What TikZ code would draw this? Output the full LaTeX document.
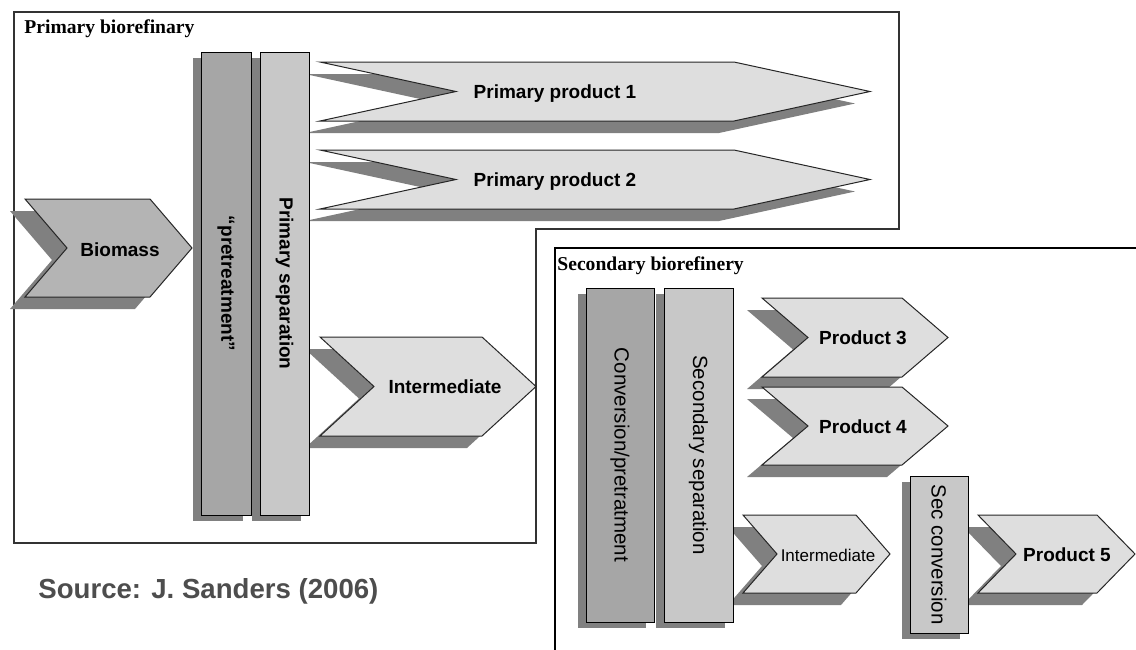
\documentclass[tikz,border=0pt]{standalone}
\usepackage{fontspec}
\setmainfont{Liberation Sans}
\newfontfamily\timesfont{Liberation Serif}
\usetikzlibrary{shadows}

\definecolor{barDark}{HTML}{A6A6A6}
\definecolor{barLight}{HTML}{C8C8C8}
\definecolor{chevLight}{HTML}{DEDEDE}
\definecolor{bioGray}{HTML}{B4B4B4}
\definecolor{shadeGray}{HTML}{808080}
\definecolor{srcGray}{HTML}{4D4D4D}

% chevron: [style] {left}{top}{bottom}{tip}{depth}
\newcommand{\chevron}[6][chevShape]{%
  \path[#1] (#2,#3) -- ({#5-#6},#3) -- (#5,{(#3+#4)/2}) -- ({#5-#6},#4)
    -- (#2,#4) -- ({#2+#6},{(#3+#4)/2}) -- cycle;}

\begin{document}
\begin{tikzpicture}[x=0.5pt,y=-0.5pt,
        frameLine/.style = {draw=black,line width=0.6pt},
        boxLabel/.style = {font=\timesfont\fontsize{9.8}{11}\selectfont\bfseries,inner sep=0,anchor=base west},
        chevShape/.style = {draw=black!85,line width=0.5pt,fill=chevLight,
            drop shadow={shadow xshift=-7.5pt,shadow yshift=-6pt,fill=shadeGray,opacity=1}},
        bioShape/.style = {chevShape,fill=bioGray},
        chevText/.style = {font=\fontsize{9.5}{11}\selectfont\bfseries,inner sep=0,text height=1.38ex,text depth=0pt},
        smallText/.style = {chevText,font=\fontsize{8.5}{10}\selectfont},
        barNode/.style = {draw=black,line width=0.5pt,inner sep=0,
            drop shadow={shadow xshift=-4pt,shadow yshift=-3pt,fill=shadeGray,opacity=1}},
        darkBar/.style = {barNode,fill=barDark},
        lightBar/.style = {barNode,fill=barLight},
        primFont/.style = {font=\fontsize{9.5}{11}\selectfont\bfseries},
        secFont/.style = {font=\fontsize{10.25}{12}\selectfont}
        ]
        \useasboundingbox (0,0) rectangle (1136,649);

        % frames
        \draw[frameLine,draw=black!80] (14,12) -- (899,12) -- (899,229) -- (536,229) -- (536,543) -- (14,543) -- cycle;
        \draw[frameLine] (1140,248) -- (555,248) -- (555,655);
        \node[boxLabel] (primLbl) at (24,33) {Primary biorefinary};
        \node[boxLabel] (secLbl) at (557,270) {Secondary biorefinery};

        % chevrons
        \chevron[bioShape]{25}{199}{297}{192}{42}
        \chevron{320}{62}{121}{870}{136}
        \chevron{320}{150}{209}{870}{136}
        \chevron{320}{337}{436}{536}{54}
        \chevron{762}{298}{377}{948}{46}
        \chevron{762}{387}{465}{948}{46}
        \chevron{743}{515}{593}{890}{34}
        \chevron{978}{515}{593}{1135}{38}

        \node[chevText] (biomass) at (120,249) {Biomass};
        \node[chevText] (prod1) at (555,91.5) {Primary product 1};
        \node[chevText] (prod2) at (555,179.5) {Primary product 2};
        \node[chevText] (inter1) at (445,386.5) {Intermediate};
        \node[chevText] (prod3) at (863,337.5) {Product 3};
        \node[chevText] (prod4) at (863,426) {Product 4};
        \node[smallText] (inter2) at (828,554) {Intermediate};
        \node[chevText] (prod5) at (1067,554) {Product 5};

        % bars
        \node[darkBar,primFont,minimum width=25pt,minimum height=231.5pt] (pretreat) at (226,283.5) {\rotatebox{-90}{“pretreatment”}};
        \node[lightBar,primFont,minimum width=24.5pt,minimum height=231.5pt] (primSep) at (284.5,283.5) {\rotatebox{-90}{Primary separation}};
        \node[darkBar,secFont,minimum width=34pt,minimum height=167pt] (conv) at (620,455) {\rotatebox{-90}{Conversion/pretratment}};
        \node[lightBar,secFont,minimum width=34.5pt,minimum height=167pt] (secSep) at (698.5,455) {\rotatebox{-90}{Secondary separation}};
        \node[lightBar,secFont,minimum width=29pt,minimum height=78.5pt] (secConv) at (939,554.5) {\rotatebox{-90}{Sec conversion}};

        \node[font=\fontsize{13.8}{16}\selectfont\bfseries,text=srcGray,inner sep=0,anchor=base west] (source) at (38,598) {Source: J. Sanders (2006)};
    \end{tikzpicture}
\end{document}
